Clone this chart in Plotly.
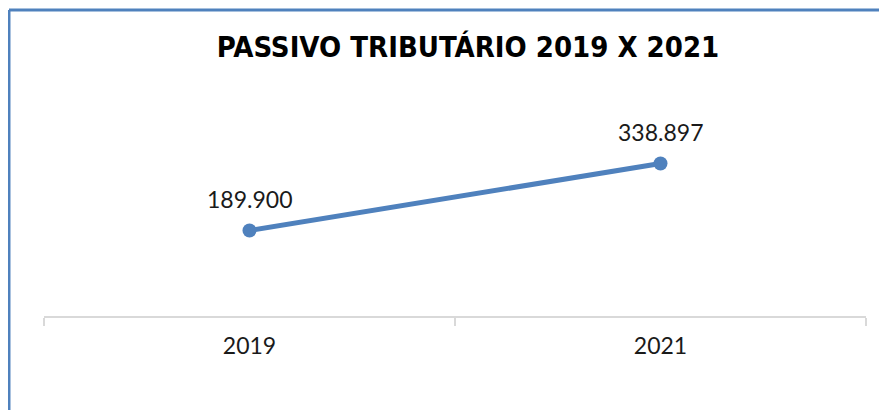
import plotly.graph_objects as go

# dados do gráfico
anos = ['2019', '2021']
passivo = [189900, 338897]
titulo = 'PASSIVO TRIBUTÁRIO 2019 X 2021'

azul = '#4F81BD'
cinza = '#D9D9D9'
fonte = 'Lato, Open Sans, sans-serif'

fig = go.Figure()
fig.add_trace(go.Scatter(
    x=anos,
    y=passivo,
    mode='lines+markers',
    line=dict(color=azul, width=5),
    marker=dict(color=azul, size=14),
    cliponaxis=False,
    hoverinfo='skip',
))

# rótulos de dados (formato brasileiro); x pelo índice da categoria
for i, valor in enumerate(passivo):
    fig.add_annotation(
        x=i, y=valor,
        text=f'{valor:,}'.replace(',', '.'),
        showarrow=False, yshift=32,
        font=dict(family=fonte, size=23, color='#1a1a1a'),
    )

fig.update_layout(
    width=887,
    height=410,
    paper_bgcolor='white',
    plot_bgcolor='white',
    showlegend=False,
    margin=dict(l=36, r=29, t=128, b=102),
    title=dict(
        text='<b>' + titulo + '</b>',
        x=0.5186, xanchor='center',
        y=0.905, yanchor='middle',
        font=dict(family='DejaVu Sans Condensed, Liberation Sans Narrow, DejaVu Sans', size=29, color='black'),
    ),
    xaxis=dict(
        type='category',
        showline=True, linecolor=cinza, linewidth=2,
        showgrid=False, zeroline=False,
        ticks='outside', tickson='boundaries', ticklen=8, tickcolor=cinza, tickwidth=2,
        ticklabelstandoff=8,
        tickfont=dict(family=fonte, size=23, color='#1a1a1a'),
        range=[-0.5, 1.5],
    ),
    yaxis=dict(visible=False, range=[0, 400000]),
)

# moldura do gráfico (só aparecem a borda esquerda e a superior)
fig.add_shape(type='line', xref='paper', yref='paper', x0=-0.0426, x1=1.1, y0=1.7, y1=1.7,
              line=dict(color=azul, width=3))
fig.add_shape(type='line', xref='paper', yref='paper', x0=-0.0426, x1=-0.0426, y0=1.7, y1=-0.6,
              line=dict(color=azul, width=3))

fig.write_html('out.html')
